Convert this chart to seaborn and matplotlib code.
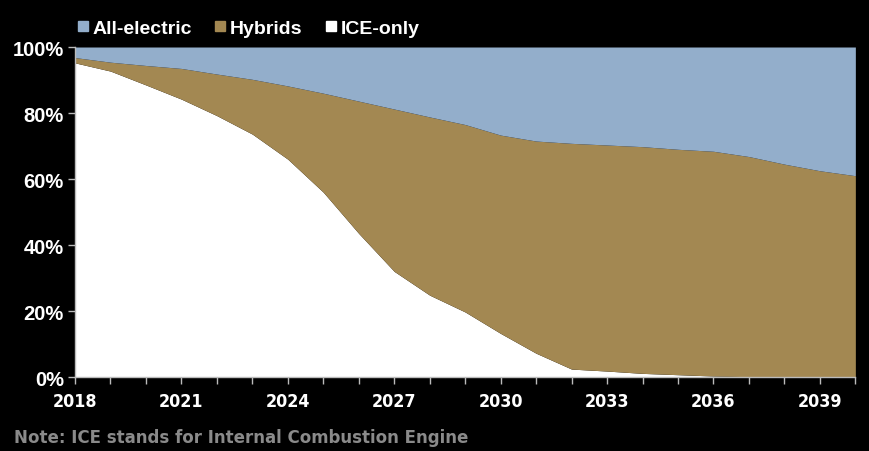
import matplotlib
matplotlib.use("Agg")
import matplotlib.pyplot as plt
from matplotlib.lines import Line2D
from matplotlib.ticker import FixedLocator, MultipleLocator, FuncFormatter
from matplotlib import font_manager
import seaborn as sns

years = list(range(2018, 2041))
all_electric = [3.2, 4.6, 5.6, 6.5, 8.2, 9.8, 11.8, 14.0, 16.4, 18.8, 21.2, 23.5,
                26.7, 28.5, 29.2, 29.7, 30.2, 31.0, 31.6, 33.2, 35.5, 37.5, 39.0]
hybrids = [1.6, 2.7, 5.9, 9.3, 12.6, 16.6, 22.2, 30.0, 40.1, 49.2, 54.0, 56.8,
           60.1, 64.3, 68.4, 68.5, 68.7, 68.3, 68.1, 66.7, 64.5, 62.5, 61.0]
ice_only = [95.2, 92.7, 88.5, 84.2, 79.2, 73.6, 66.0, 56.0, 43.5, 32.0, 24.8, 19.7,
            13.2, 7.2, 2.4, 1.8, 1.1, 0.7, 0.3, 0.1, 0.0, 0.0, 0.0]
year_labels = [2018, 2021, 2024, 2027, 2030, 2033, 2036, 2039]
series_names = ["All-electric", "Hybrids", "ICE-only"]
colors = {"All-electric": "#93AECB", "Hybrids": "#A38852", "ICE-only": "#FFFFFF"}
note = "Note: ICE stands for Internal Combustion Engine"

sns.set_theme(style="dark")
plt.rcParams["font.family"] = ["Liberation Sans", "DejaVu Sans"]
plt.rcParams["font.weight"] = "bold"

# a condensed face for the year labels and the footnote, if one is installed
names = {f.name for f in font_manager.fontManager.ttflist}
narrow_fp = None
if "Liberation Sans Narrow" in names:
    narrow_fp = font_manager.FontProperties(family="Liberation Sans Narrow", weight="bold")
else:
    for f in font_manager.fontManager.ttflist:
        if f.name == "DejaVu Sans" and "ondensed" in f.fname and "Bold" in f.fname \
                and "Oblique" not in f.fname:
            narrow_fp = font_manager.FontProperties(fname=f.fname)
            break
if narrow_fp is None:
    narrow_fp = font_manager.FontProperties(family="Liberation Sans", weight="bold")

fig = plt.figure(figsize=(8.69, 4.52), dpi=100, facecolor="black")
ax = fig.add_axes([0.0863, 0.1637, 0.898, 0.7301])
ax.set_facecolor("black")

# stacked from the bottom: ICE-only, Hybrids, All-electric
ax.stackplot(years, ice_only, hybrids, all_electric,
             colors=[colors["ICE-only"], colors["Hybrids"], colors["All-electric"]],
             linewidth=0)

ax.set_xlim(2018, 2040)
ax.set_ylim(0, 100)
ax.grid(False)
ax.xaxis.set_major_locator(FixedLocator(year_labels))
ax.xaxis.set_minor_locator(FixedLocator(years))
ax.yaxis.set_major_locator(MultipleLocator(20))
ax.yaxis.set_major_formatter(FuncFormatter(lambda v, p: f"{int(v)}%"))

for side in ["top", "right"]:
    ax.spines[side].set_visible(False)
for side in ["left", "bottom"]:
    ax.spines[side].set_color("#BBBBBB")
    ax.spines[side].set_linewidth(1.0)

ax.tick_params(axis="both", which="both", direction="out", colors="#BBBBBB",
               labelcolor="white", bottom=True, left=True)
ax.tick_params(axis="x", which="both", length=5, width=1, pad=6)
ax.tick_params(axis="y", which="major", length=5, width=1, pad=3, labelsize=14.5)
for lab in ax.get_xticklabels():
    lab.set_fontproperties(narrow_fp)
    lab.set_fontsize(12.8)
for lab in ax.get_yticklabels():
    lab.set_fontweight("bold")

handles = [Line2D([0], [0], marker="s", linestyle="none", markersize=7.5,
                  markerfacecolor=colors[n], markeredgecolor=colors[n], label=n)
           for n in series_names]
leg = fig.legend(handles=handles, loc="upper left", bbox_to_anchor=(0.062, 0.993),
                 ncol=3, frameon=False, handletextpad=-0.1, columnspacing=0.85,
                 handlelength=1.2,
                 prop={"family": ["Liberation Sans", "DejaVu Sans"], "weight": "bold", "size": 14})
for t in leg.get_texts():
    t.set_color("white")

note_fp = narrow_fp.copy()
note_fp.set_size(13.3)
fig.text(0.016, 0.011, note, color="#8A8A8A", fontproperties=note_fp,
         ha="left", va="bottom")

fig.savefig("out.png", dpi=100, facecolor="black")
